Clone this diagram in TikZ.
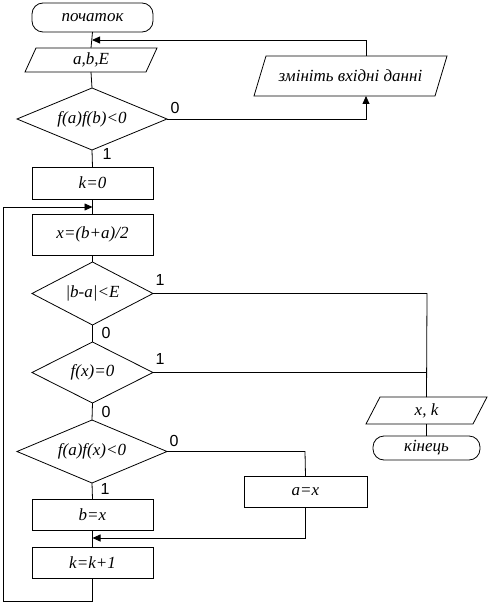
\documentclass[tikz,border=0pt]{standalone}
\usepackage{fontspec}
\setmainfont{Liberation Serif}
\newfontfamily\lblfont{Liberation Sans}
\usetikzlibrary{arrows.meta,calc}
\begin{document}
\begin{tikzpicture}[x=1pt,y=-1pt,
  line width=0.8pt,
  every node/.style={inner sep=0pt,outer sep=0pt},
  txt/.style={font=\fontsize{17}{19}\selectfont\itshape},
  proc/.style={draw,rectangle,txt,minimum width=121pt,minimum height=#1},
  term/.style={draw,rectangle,rounded corners=11pt,txt},
  dec/.style={txt},
  io/.style={txt},
  lbl/.style={font=\fontsize{16}{18}\selectfont\lblfont},
  arr/.style={-{Triangle[length=8pt,width=7pt]}}
]
\useasboundingbox (0,0) rectangle (490,604);
\fill[white] (0,0) rectangle (490,604);

% nodes
\node[term,minimum width=121pt,minimum height=29pt] (start) at (92.5,17.5) {початок};
\node[io,minimum width=132pt,minimum height=24pt] (in1) at (91,60) {a,b,E};
\draw ($(in1.south west)$) -- ($(in1.south east)+(-11,0)$) -- (in1.north east) -- ($(in1.north west)+(11,0)$) -- cycle;

\node[dec,minimum width=150pt,minimum height=62pt] (d1) at (92,119) {f(a)f(b)<0};
\draw (d1.north) -- (d1.east) -- (d1.south) -- (d1.west) -- cycle;

\node[io,minimum width=193pt,minimum height=40pt] (chg) at (350.5,76) {змініть вхідні данні};
\draw ($(chg.south west)$) -- ($(chg.south east)+(-12,0)$) -- (chg.north east) -- ($(chg.north west)+(12,0)$) -- cycle;

\node[proc=32pt] (k0) at (92.5,183) {k=0};
\node[proc=41pt] (xm) at (92.5,234.5) {x=(b+a)/2};

\node[dec,minimum width=121pt,minimum height=63pt] (d2) at (92.5,293.5) {|b-a|<E};
\draw (d2.north) -- (d2.east) -- (d2.south) -- (d2.west) -- cycle;

\node[dec,minimum width=121pt,minimum height=61pt] (d3) at (92.5,372.5) {f(x)=0};
\draw (d3.north) -- (d3.east) -- (d3.south) -- (d3.west) -- cycle;

\node[dec,minimum width=150pt,minimum height=63pt] (d4) at (92,451.5) {f(a)f(x)<0};
\draw (d4.north) -- (d4.east) -- (d4.south) -- (d4.west) -- cycle;

\node[proc=31pt] (bx) at (92.5,514.5) {b=x};
\node[draw,rectangle,txt,minimum width=123pt,minimum height=31pt] (ax) at (305.5,491.5) {a=x};
\node[proc=31pt] (kk) at (92.5,562.5) {k=k+1};

\node[io,minimum width=121pt,minimum height=27pt] (out) at (426.5,410.5) {x, k};
\draw ($(out.south west)$) -- ($(out.south east)+(-14,0)$) -- (out.north east) -- ($(out.north west)+(14,0)$) -- cycle;

\node[term,minimum width=107pt,minimum height=24pt] (end) at (426.5,448) {кінець};

% junction coordinates
\coordinate (j1) at (92,40);
\coordinate (j2) at (92.5,207);
\coordinate (j3) at (92.5,538);
\coordinate (c1) at (366,119);
\coordinate (c2) at (427,293.5);
\coordinate (c3) at (427,372.5);
\coordinate (c4) at (305,451.5);
\coordinate (c5) at (92.5,601);
\coordinate (c6) at (3,601);

% connectors
\draw (start.south) -- (in1.north);
\draw (in1.south) -- (d1.north);
\draw (d1.south) -- (k0.north);
\draw[arr] (d1.east) -- (c1) -- (c1 |- chg.south);
\draw[arr] (c1 |- chg.north) |- (j1);
\draw (k0.south) -- (xm.north);
\draw (xm.south) -- (d2.north);
\draw (d2.south) -- (d3.north);
\draw (d2.east) -- (c2) -- (out.north);
\draw (d3.east) -- (c3);
\draw (d3.south) -- (d4.north);
\draw (d4.south) -- (bx.north);
\draw (d4.east) -- (c4) -- (ax.north);
\draw[arr] (ax.south) |- (j3);
\draw (bx.south) -- (kk.north);
\draw[arr] (kk.south) -- (c5) -- (c6) |- (j2);
\draw (out.south) -- (end.north);

% labels
\node[lbl] (l1) at (175,108) {0};
\node[lbl] (l2) at (107,154) {1};
\node[lbl] (l3) at (160,280) {1};
\node[lbl] (l4) at (106,333) {0};
\node[lbl] (l5) at (160,359) {1};
\node[lbl] (l6) at (106,412) {0};
\node[lbl] (l7) at (174,441) {0};
\node[lbl] (l8) at (105,489) {1};
\end{tikzpicture}
\end{document}
